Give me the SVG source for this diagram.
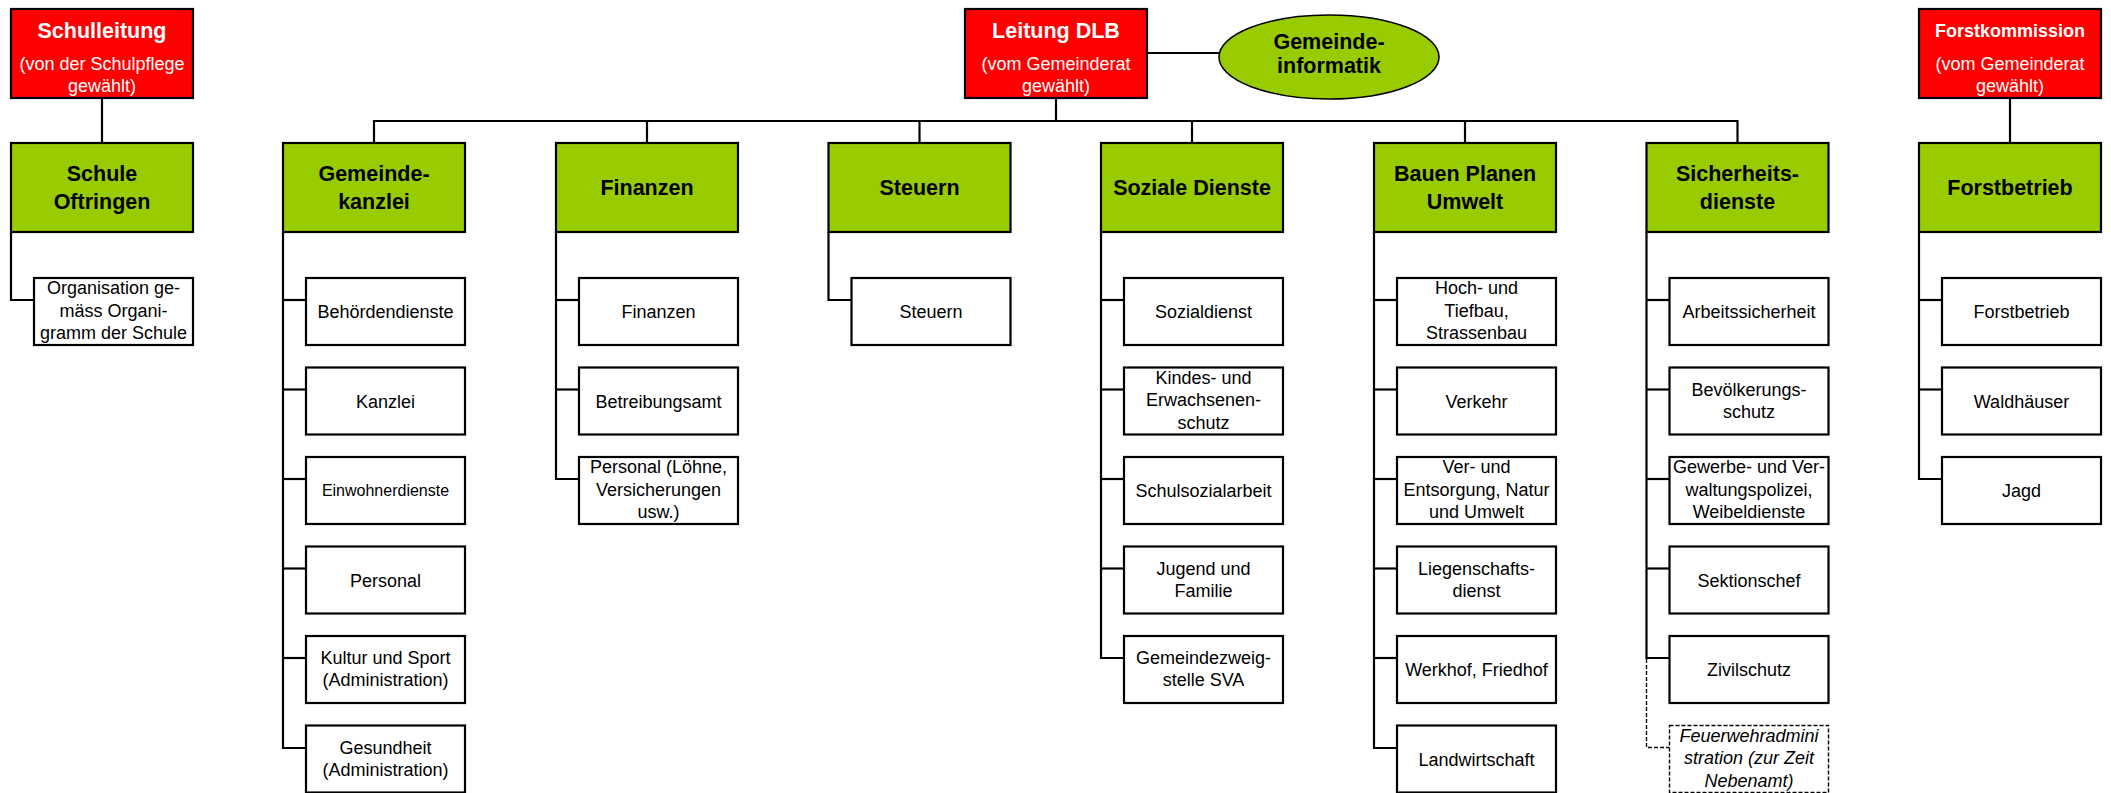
<svg xmlns="http://www.w3.org/2000/svg" width="2111" height="793" viewBox="0 0 2111 793">
<style>
  text { font-family: "Liberation Sans", Arial, sans-serif; text-anchor: middle; }
  .red { fill: #FF0000; stroke: #000; stroke-width: 2.2; }
  .green { fill: #99CC00; stroke: #000; stroke-width: 2.2; }
  .sub { fill: #FFFFFF; stroke: #000; stroke-width: 2.2; }
  .dash { fill: #FFFFFF; stroke: #000; stroke-width: 1.4; stroke-dasharray: 4 2; }
  .t { font-size: 21.5px; font-weight: bold; fill: #FFFFFF; }
  .ts { font-size: 18px; fill: #FFFFFF; }
  .g { font-size: 21.5px; font-weight: bold; fill: #000; }
  .s { font-size: 18px; fill: #000; }
  .s16 { font-size: 16px; fill: #000; }
  .it { font-size: 18px; font-style: italic; fill: #000; }
  .ln { stroke: #000; stroke-width: 2.2; fill: none; }
  .ld { stroke: #000; stroke-width: 1.4; fill: none; stroke-dasharray: 4 2; }
</style>

<g id="connectors">
  <!-- top-level -->
  <line class="ln" x1="102" y1="98" x2="102" y2="143"/>
  <line class="ln" x1="2010" y1="98" x2="2010" y2="143"/>
  <line class="ln" x1="1147" y1="53" x2="1219" y2="53"/>
  <line class="ln" x1="1056" y1="98" x2="1056" y2="121"/>
  <polyline class="ln" points="374,143 374,121 1737.5,121 1737.5,143"/>
  <line class="ln" x1="647" y1="121" x2="647" y2="143"/>
  <line class="ln" x1="919.5" y1="121" x2="919.5" y2="143"/>
  <line class="ln" x1="1192" y1="121" x2="1192" y2="143"/>
  <line class="ln" x1="1465" y1="121" x2="1465" y2="143"/>
  <!-- Schule -->
  <polyline class="ln" points="11,232 11,300 34,300"/>
  <!-- Gemeindekanzlei -->
  <polyline class="ln" points="283,232 283,748 306,748"/>
  <line class="ln" x1="283" y1="300" x2="306" y2="300"/>
  <line class="ln" x1="283" y1="389.5" x2="306" y2="389.5"/>
  <line class="ln" x1="283" y1="479" x2="306" y2="479"/>
  <line class="ln" x1="283" y1="568.5" x2="306" y2="568.5"/>
  <line class="ln" x1="283" y1="658" x2="306" y2="658"/>
  <!-- Finanzen -->
  <polyline class="ln" points="556,232 556,479 579,479"/>
  <line class="ln" x1="556" y1="300" x2="579" y2="300"/>
  <line class="ln" x1="556" y1="389.5" x2="579" y2="389.5"/>
  <!-- Steuern -->
  <polyline class="ln" points="828.5,232 828.5,300 851.5,300"/>
  <!-- Soziale Dienste -->
  <polyline class="ln" points="1101,232 1101,658 1124,658"/>
  <line class="ln" x1="1101" y1="300" x2="1124" y2="300"/>
  <line class="ln" x1="1101" y1="389.5" x2="1124" y2="389.5"/>
  <line class="ln" x1="1101" y1="479" x2="1124" y2="479"/>
  <line class="ln" x1="1101" y1="568.5" x2="1124" y2="568.5"/>
  <!-- Bauen -->
  <polyline class="ln" points="1374,232 1374,748 1397,748"/>
  <line class="ln" x1="1374" y1="300" x2="1397" y2="300"/>
  <line class="ln" x1="1374" y1="389.5" x2="1397" y2="389.5"/>
  <line class="ln" x1="1374" y1="479" x2="1397" y2="479"/>
  <line class="ln" x1="1374" y1="568.5" x2="1397" y2="568.5"/>
  <line class="ln" x1="1374" y1="658" x2="1397" y2="658"/>
  <!-- Sicherheit -->
  <polyline class="ln" points="1646.5,232 1646.5,658 1669.5,658"/>
  <line class="ln" x1="1646.5" y1="300" x2="1669.5" y2="300"/>
  <line class="ln" x1="1646.5" y1="389.5" x2="1669.5" y2="389.5"/>
  <line class="ln" x1="1646.5" y1="479" x2="1669.5" y2="479"/>
  <line class="ln" x1="1646.5" y1="568.5" x2="1669.5" y2="568.5"/>
  <polyline class="ld" points="1646.5,659 1646.5,747.5 1669.5,747.5"/>
  <!-- Forst -->
  <polyline class="ln" points="1919,232 1919,479 1942,479"/>
  <line class="ln" x1="1919" y1="300" x2="1942" y2="300"/>
  <line class="ln" x1="1919" y1="389.5" x2="1942" y2="389.5"/>
</g>

<!-- Top red nodes -->
<g id="schulleitung">
  <rect class="red" x="11" y="9" width="182" height="89"/>
  <text class="t" x="102" y="38">Schulleitung</text>
  <text class="ts" x="102" y="70">(von der Schulpflege</text>
  <text class="ts" x="102" y="92">gewählt)</text>
</g>
<g id="leitung-dlb">
  <rect class="red" x="965" y="9" width="182" height="89"/>
  <text class="t" x="1056" y="38">Leitung DLB</text>
  <text class="ts" x="1056" y="70">(vom Gemeinderat</text>
  <text class="ts" x="1056" y="92">gewählt)</text>
</g>
<g id="gemeindeinformatik">
  <ellipse cx="1329" cy="57" rx="110" ry="42" fill="#99CC00" stroke="#000" stroke-width="1.6"/>
  <text class="g" x="1329" y="49">Gemeinde-</text>
  <text class="g" x="1329" y="73">informatik</text>
</g>
<g id="forstkommission">
  <rect class="red" x="1919" y="9" width="182" height="89"/>
  <text class="t" x="2010" y="37" style="font-size:18px">Forstkommission</text>
  <text class="ts" x="2010" y="70">(vom Gemeinderat</text>
  <text class="ts" x="2010" y="92">gewählt)</text>
</g>

<!-- Green department nodes -->
<g id="schule-oftringen">
  <rect class="green" x="11" y="143" width="182" height="89"/>
  <text class="g" x="102" y="181">Schule</text>
  <text class="g" x="102" y="209">Oftringen</text>
</g>
<g id="gemeindekanzlei">
  <rect class="green" x="283" y="143" width="182" height="89"/>
  <text class="g" x="374" y="181">Gemeinde-</text>
  <text class="g" x="374" y="209">kanzlei</text>
</g>
<g id="finanzen">
  <rect class="green" x="556" y="143" width="182" height="89"/>
  <text class="g" x="647" y="195">Finanzen</text>
</g>
<g id="steuern">
  <rect class="green" x="828.5" y="143" width="182" height="89"/>
  <text class="g" x="919.5" y="195">Steuern</text>
</g>
<g id="soziale-dienste">
  <rect class="green" x="1101" y="143" width="182" height="89"/>
  <text class="g" x="1192" y="195">Soziale Dienste</text>
</g>
<g id="bauen-planen-umwelt">
  <rect class="green" x="1374" y="143" width="182" height="89"/>
  <text class="g" x="1465" y="181">Bauen Planen</text>
  <text class="g" x="1465" y="209">Umwelt</text>
</g>
<g id="sicherheitsdienste">
  <rect class="green" x="1646.5" y="143" width="182" height="89"/>
  <text class="g" x="1737.5" y="181">Sicherheits-</text>
  <text class="g" x="1737.5" y="209">dienste</text>
</g>
<g id="forstbetrieb">
  <rect class="green" x="1919" y="143" width="182" height="89"/>
  <text class="g" x="2010" y="195">Forstbetrieb</text>
</g>

<!-- Schule sub -->
<g id="organisation-schule">
  <rect class="sub" x="34" y="278" width="159" height="67"/>
  <text class="s" x="113.5" y="294">Organisation ge-</text>
  <text class="s" x="113.5" y="316.5">mäss Organi-</text>
  <text class="s" x="113.5" y="339">gramm der Schule</text>
</g>

<!-- Gemeindekanzlei subs -->
<g id="behoerdendienste">
  <rect class="sub" x="306" y="278" width="159" height="67"/>
  <text class="s" x="385.5" y="318">Behördendienste</text>
</g>
<g id="kanzlei">
  <rect class="sub" x="306" y="367.5" width="159" height="67"/>
  <text class="s" x="385.5" y="407.5">Kanzlei</text>
</g>
<g id="einwohnerdienste">
  <rect class="sub" x="306" y="457" width="159" height="67"/>
  <text class="s16" x="385.5" y="496">Einwohnerdienste</text>
</g>
<g id="personal">
  <rect class="sub" x="306" y="546.5" width="159" height="67"/>
  <text class="s" x="385.5" y="586.5">Personal</text>
</g>
<g id="kultur-sport">
  <rect class="sub" x="306" y="636" width="159" height="67"/>
  <text class="s" x="385.5" y="664">Kultur und Sport</text>
  <text class="s" x="385.5" y="686">(Administration)</text>
</g>
<g id="gesundheit">
  <rect class="sub" x="306" y="725.5" width="159" height="67"/>
  <text class="s" x="385.5" y="753.5">Gesundheit</text>
  <text class="s" x="385.5" y="775.5">(Administration)</text>
</g>

<!-- Finanzen subs -->
<g id="finanzen-sub">
  <rect class="sub" x="579" y="278" width="159" height="67"/>
  <text class="s" x="658.5" y="318">Finanzen</text>
</g>
<g id="betreibungsamt">
  <rect class="sub" x="579" y="367.5" width="159" height="67"/>
  <text class="s" x="658.5" y="407.5">Betreibungsamt</text>
</g>
<g id="personal-loehne">
  <rect class="sub" x="579" y="457" width="159" height="67"/>
  <text class="s" x="658.5" y="473">Personal (Löhne,</text>
  <text class="s" x="658.5" y="495.5">Versicherungen</text>
  <text class="s" x="658.5" y="518">usw.)</text>
</g>

<!-- Steuern sub -->
<g id="steuern-sub">
  <rect class="sub" x="851.5" y="278" width="159" height="67"/>
  <text class="s" x="931" y="318">Steuern</text>
</g>

<!-- Soziale Dienste subs -->
<g id="sozialdienst">
  <rect class="sub" x="1124" y="278" width="159" height="67"/>
  <text class="s" x="1203.5" y="318">Sozialdienst</text>
</g>
<g id="kindes-erwachsenenschutz">
  <rect class="sub" x="1124" y="367.5" width="159" height="67"/>
  <text class="s" x="1203.5" y="383.5">Kindes- und</text>
  <text class="s" x="1203.5" y="406">Erwachsenen-</text>
  <text class="s" x="1203.5" y="428.5">schutz</text>
</g>
<g id="schulsozialarbeit">
  <rect class="sub" x="1124" y="457" width="159" height="67"/>
  <text class="s" x="1203.5" y="497">Schulsozialarbeit</text>
</g>
<g id="jugend-familie">
  <rect class="sub" x="1124" y="546.5" width="159" height="67"/>
  <text class="s" x="1203.5" y="574.5">Jugend und</text>
  <text class="s" x="1203.5" y="596.5">Familie</text>
</g>
<g id="gemeindezweigstelle">
  <rect class="sub" x="1124" y="636" width="159" height="67"/>
  <text class="s" x="1203.5" y="664">Gemeindezweig-</text>
  <text class="s" x="1203.5" y="686">stelle SVA</text>
</g>

<!-- Bauen subs -->
<g id="hoch-tiefbau">
  <rect class="sub" x="1397" y="278" width="159" height="67"/>
  <text class="s" x="1476.5" y="294">Hoch- und</text>
  <text class="s" x="1476.5" y="316.5">Tiefbau,</text>
  <text class="s" x="1476.5" y="339">Strassenbau</text>
</g>
<g id="verkehr">
  <rect class="sub" x="1397" y="367.5" width="159" height="67"/>
  <text class="s" x="1476.5" y="407.5">Verkehr</text>
</g>
<g id="ver-entsorgung">
  <rect class="sub" x="1397" y="457" width="159" height="67"/>
  <text class="s" x="1476.5" y="473">Ver- und</text>
  <text class="s" x="1476.5" y="495.5">Entsorgung, Natur</text>
  <text class="s" x="1476.5" y="518">und Umwelt</text>
</g>
<g id="liegenschaftsdienst">
  <rect class="sub" x="1397" y="546.5" width="159" height="67"/>
  <text class="s" x="1476.5" y="574.5">Liegenschafts-</text>
  <text class="s" x="1476.5" y="596.5">dienst</text>
</g>
<g id="werkhof-friedhof">
  <rect class="sub" x="1397" y="636" width="159" height="67"/>
  <text class="s" x="1476.5" y="676">Werkhof, Friedhof</text>
</g>
<g id="landwirtschaft">
  <rect class="sub" x="1397" y="725.5" width="159" height="67"/>
  <text class="s" x="1476.5" y="765.5">Landwirtschaft</text>
</g>

<!-- Sicherheit subs -->
<g id="arbeitssicherheit">
  <rect class="sub" x="1669.5" y="278" width="159" height="67"/>
  <text class="s" x="1749" y="318">Arbeitssicherheit</text>
</g>
<g id="bevoelkerungsschutz">
  <rect class="sub" x="1669.5" y="367.5" width="159" height="67"/>
  <text class="s" x="1749" y="395.5">Bevölkerungs-</text>
  <text class="s" x="1749" y="417.5">schutz</text>
</g>
<g id="gewerbepolizei">
  <rect class="sub" x="1669.5" y="457" width="159" height="67"/>
  <text class="s" x="1749" y="473">Gewerbe- und Ver-</text>
  <text class="s" x="1749" y="495.5">waltungspolizei,</text>
  <text class="s" x="1749" y="518">Weibeldienste</text>
</g>
<g id="sektionschef">
  <rect class="sub" x="1669.5" y="546.5" width="159" height="67"/>
  <text class="s" x="1749" y="586.5">Sektionschef</text>
</g>
<g id="zivilschutz">
  <rect class="sub" x="1669.5" y="636" width="159" height="67"/>
  <text class="s" x="1749" y="676">Zivilschutz</text>
</g>
<g id="feuerwehradministration">
  <rect class="dash" x="1669.5" y="725.5" width="159" height="67"/>
  <text class="it" x="1749" y="741.5">Feuerwehradmini</text>
  <text class="it" x="1749" y="764">stration (zur Zeit</text>
  <text class="it" x="1749" y="786.5">Nebenamt)</text>
</g>

<!-- Forst subs -->
<g id="forstbetrieb-sub">
  <rect class="sub" x="1942" y="278" width="159" height="67"/>
  <text class="s" x="2021.5" y="318">Forstbetrieb</text>
</g>
<g id="waldhaeuser">
  <rect class="sub" x="1942" y="367.5" width="159" height="67"/>
  <text class="s" x="2021.5" y="407.5">Waldhäuser</text>
</g>
<g id="jagd">
  <rect class="sub" x="1942" y="457" width="159" height="67"/>
  <text class="s" x="2021.5" y="497">Jagd</text>
</g>
</svg>
